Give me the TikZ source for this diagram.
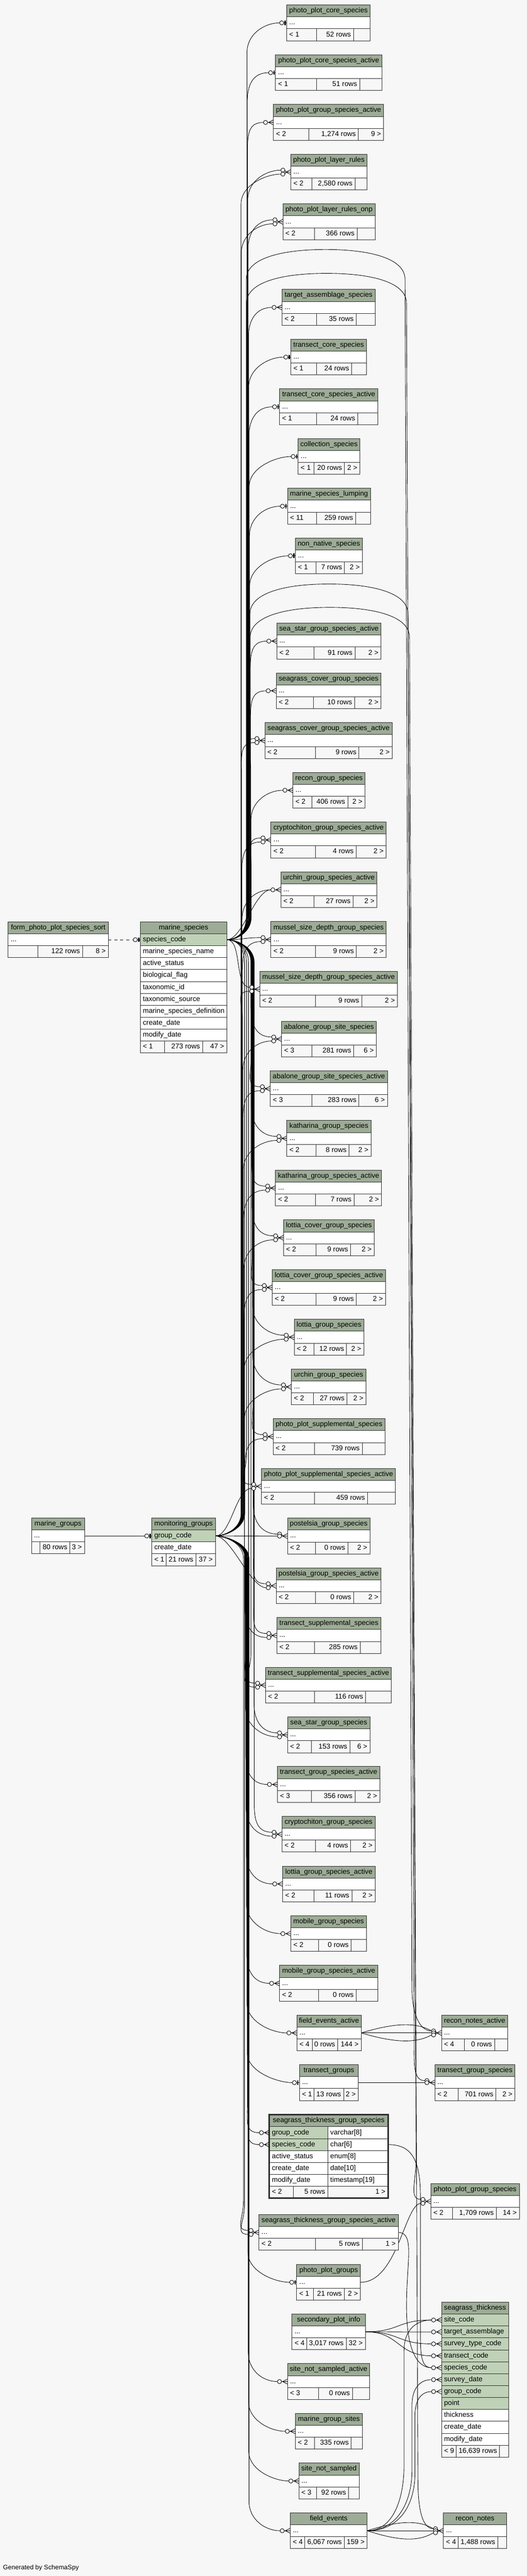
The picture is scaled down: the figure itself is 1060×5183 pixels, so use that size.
\documentclass[tikz,border=0pt]{standalone}
\usepackage{fontspec}
\setmainfont{Liberation Sans}
\usetikzlibrary{calc}
\definecolor{bgc}{RGB}{247,247,247}
\definecolor{hdrc}{RGB}{157,172,150}
\definecolor{keyc}{RGB}{191,209,183}
\definecolor{linec}{RGB}{45,45,45}
\pgfdeclarelayer{back}
\pgfdeclarelayer{wires}
\pgfsetlayers{back,wires,main}
\tikzset{
  tbl/.style={draw=linec,line width=1pt},
  tx/.style={font=\fontsize{14.2}{17}\selectfont,inner sep=0pt,text height=10.2pt,text depth=3pt,anchor=west},
  fkl/.style={draw=black,line width=0.9pt},
}
\def\tblgeom#1,#2,#3,#4,#5\relax{\def\tXl{#1}\def\tXr{#2}\def\tY{#3}\def\tDa{#4}\def\tDb{#5}}
\newcommand\stbl[6]{%
  \tblgeom#2\relax
  \fill[hdrc] (\tXl,\tY) rectangle (\tXr,{\tY+24});
  \fill[white] (\tXl,{\tY+24}) rectangle (\tXr,{\tY+48});
  \fill[bgc] (\tXl,{\tY+48}) rectangle (\tXr,{\tY+72});
  \draw[tbl] (\tXl,\tY) rectangle (\tXr,{\tY+72})
    (\tXl,{\tY+24}) -- (\tXr,{\tY+24}) (\tXl,{\tY+48}) -- (\tXr,{\tY+48})
    (\tDa,{\tY+48}) -- (\tDa,{\tY+72}) (\tDb,{\tY+48}) -- (\tDb,{\tY+72});
  \node[tx,anchor=center] (#1-t) at ({(\tXl+\tXr)/2},{\tY+12}) {#3};
  \node[tx] (#1-r) at ({\tXl+5},{\tY+36}) {...};
  \node[tx] (#1-fa) at ({\tXl+5},{\tY+60}) {#4};
  \node[tx,anchor=east] (#1-fb) at ({\tDb-5},{\tY+60}) {#5};
  \node[tx,anchor=east] (#1-fc) at ({\tXr-5},{\tY+60}) {#6};
  \coordinate (#1-in) at (\tXl,{\tY+36});
  \coordinate (#1-out) at (\tXr,{\tY+36});
  \coordinate (#1-c) at ({\tXl-20},{\tY+36});
  \coordinate (#1-cu) at ({\tXl-20},{\tY+32});
  \coordinate (#1-cd) at ({\tXl-20},{\tY+40});
  \coordinate (#1-z) at ({\tXl-14.3},{\tY+36});
}
\newcommand\bhead[5]{%
  \fill[hdrc] ({#2},{#4}) rectangle ({#3},{#4+24});
  \draw[tbl] ({#2},{#4}) rectangle ({#3},{#4+24});
  \node[tx,anchor=center] (#1-t) at ({(#2+#3)/2},{#4+12}) {#5};
}
\newcommand\brow[7]{%
  \fill[#7] ({#3},{#5}) rectangle ({#4},{#5+24});
  \draw[tbl] ({#3},{#5}) rectangle ({#4},{#5+24});
  \node[tx] (#1-#2) at ({#3+5},{#5+12}) {#6};
  \coordinate (#1-#2-in) at ({#3},{#5+12});
  \coordinate (#1-#2-out) at ({#4},{#5+12});
  \coordinate (#1-#2-c) at ({#3-20},{#5+12});
  \coordinate (#1-#2-z) at ({#3-14.3},{#5+12});
}
\newcommand\bfoot[9]{%
  \fill[bgc] ({#2},{#4}) rectangle ({#3},{#4+24});
  \draw[tbl] ({#2},{#4}) rectangle ({#3},{#4+24}) ({#5},{#4}) -- ({#5},{#4+24}) ({#6},{#4}) -- ({#6},{#4+24});
  \node[tx] (#1-fa) at ({#2+5},{#4+12}) {#7};
  \node[tx,anchor=east] (#1-fb) at ({#6-5},{#4+12}) {#8};
  \node[tx,anchor=east] (#1-fc) at ({#3-5},{#4+12}) {#9};
}
\newcommand\crowfan[1]{\draw[fkl] ($(#1-in)+(-10,0)$) -- (#1-in) ($(#1-in)+(-10,0)$) -- ($(#1-in)+(0,-5)$) ($(#1-in)+(-10,0)$) -- ($(#1-in)+(0,5)$);}
\newcommand\crowcirc[2]{\draw[fkl] ($(#1-in)+(-12,#2)$) -- ($(#1-in)+(-10,0)$); \draw[fkl,fill=bgc] ($(#1-in)+(-16,#2)$) circle (4.2pt);}
\newcommand\zomk[1]{\draw[fkl] ($(#1-in)+(-6,0)$) -- (#1-in); \draw[fkl,fill=bgc] ($(#1-in)+(-10,0)$) circle (4.2pt); \draw[black,line width=2.4pt] ($(#1-in)+(-3,-4.5)$) -- ($(#1-in)+(-3,4.5)$);}
\newcommand\fk[4]{\draw[fkl] (#1) .. controls ($(#1)+(20,0)$) and ($(#3,0 |- #1)+(0,{(#4)*15})$) .. ($(#3,0 |- #1)+(0,{(#4)*45})$) -- ($(#3,0 |- #2)+(0,{-60*(#4)})$) .. controls ($(#3,0 |- #2)+(0,{-22*(#4)})$) and ($(#2)+(-30,0)$) .. (#2);}
\newcommand\fkn[2]{\draw[fkl] (#1) .. controls ($(#1)+(32,0)$) and ($(#2)+(-32,0)$) .. (#2);}
\newcommand\fks[2]{\draw[fkl] (#1) -- (#2);}
\newcommand\fkarc[7]{\draw[fkl] (#1) .. controls ($(#1)+(20,0)$) and ($(#3,0 |- #1)+(0,-15)$) .. ($(#3,0 |- #1)+(0,-45)$) -- (#3,{#4+60}) .. controls (#3,{#4+18}) and ({#3+70},#4) .. ({(#3+#5)/2},#4) .. controls ({#5-70},#4) and (#5,{#4+18}) .. (#5,{#4+60}) -- (#6,#7) .. controls (#6,{#7+50}) and ($(#2)+(-25,0)$) .. (#2);}

\begin{document}
\begin{tikzpicture}[x=1pt,y=-1pt]
\begin{pgfonlayer}{back}
\fill[bgc] (0,0) rectangle (1060,5183);
\end{pgfonlayer}
\useasboundingbox (0,0) rectangle (1060,5183);

% ---------- left tables ----------
\stbl{fps}{16.4,217.9,1854.7,76.4,166.1}{form\_photo\_plot\_species\_sort}{}{122 rows}{8 >}
\stbl{mgr}{63.3,170,3054.3,80.7,140.7}{marine\_groups}{}{80 rows}{3 >}

\bhead{ms}{282.3}{456.3}{1854.7}{marine\_species}
\foreach \rnm/\rfl [count=\i] in {species\_code/keyc, marine\_species\_name/white, active\_status/white, biological\_flag/white, taxonomic\_id/white, taxonomic\_source/white, marine\_species\_definition/white, create\_date/white, modify\_date/white}
  {\brow{ms}{\i}{282.3}{456.3}{1854.7+24*\i}{\rnm}{\rfl}}
\bfoot{ms}{282.3}{456.3}{2094.7}{331}{407.7}{< 1}{273 rows}{47 >}

\bhead{mg}{305.3}{433.3}{3054.3}{monitoring\_groups}
\brow{mg}{1}{305.3}{433.3}{3078.3}{group\_code}{keyc}
\brow{mg}{2}{305.3}{433.3}{3102.3}{create\_date}{white}
\bfoot{mg}{305.3}{433.3}{3126.3}{334.3}{394.3}{< 1}{21 rows}{37 >}

% ---------- middle column ----------
\stbl{ppcs}{576.8,745.1,10,637,711.4}{photo\_plot\_core\_species}{< 1}{52 rows}{}
\stbl{ppcsa}{554.5,768.3,110.3,637,723.7}{photo\_plot\_core\_species\_active}{< 1}{51 rows}{}
\stbl{ppgsa}{550.3,772,210.3,621,721.1}{photo\_plot\_group\_species\_active}{< 2}{1,274 rows}{9 >}
\stbl{pplr}{585.2,738.4,310.3,627.7,714.4}{photo\_plot\_layer\_rules}{< 2}{2,580 rows}{}
\stbl{pplro}{569.2,754.8,410.3,632.7,718.6}{photo\_plot\_layer\_rules\_onp}{< 2}{366 rows}{}
\stbl{tas}{567.5,754.8,582.5,637,716.9}{target\_assemblage\_species}{< 2}{35 rows}{}
\stbl{tcs}{585.2,737.5,682.5,637,707.7}{transect\_core\_species}{< 1}{24 rows}{}
\stbl{tcsa}{562.5,760.3,782.5,637,719.9}{transect\_core\_species\_active}{< 1}{24 rows}{}
\stbl{cs}{599.9,724.1,882.5,631.5,693.4}{collection\_species}{< 1}{20 rows}{2 >}
\stbl{msl}{578.5,745.5,982.5,637,715.7}{marine\_species\_lumping}{< 11}{259 rows}{}
\stbl{nns}{594.4,729.1,1082.3,636.1,693.4}{non\_native\_species}{< 1}{7 rows}{2 >}
\stbl{ssgsa}{557,766.6,1253.9,631.9,714.4}{sea\_star\_group\_species\_active}{< 2}{91 rows}{2 >}
\stbl{scgs}{555.7,766.6,1353.9,630.6,713.6}{seagrass\_cover\_group\_species}{< 2}{10 rows}{2 >}
\stbl{scgsa}{533,789.3,1454,634.4,722.4}{seagrass\_cover\_group\_species\_active}{< 2}{9 rows}{2 >}
\stbl{rgs}{589.4,734.6,1554,627.7,699.7}{recon\_group\_species}{< 2}{406 rows}{2 >}
\stbl{cgsa}{545.2,777.1,1654,634.4,716.9}{cryptochiton\_group\_species\_active}{< 2}{4 rows}{2 >}
\stbl{ugsa}{565,758.6,1754.3,631.9,710.6}{urchin\_group\_species\_active}{< 2}{27 rows}{2 >}
\stbl{msdgs}{545.2,777.1,1854.4,634.4,717.3}{mussel\_size\_depth\_group\_species}{< 2}{9 rows}{2 >}
\stbl{msdgsa}{522.5,799.8,1954.4,634.4,727.9}{mussel\_size\_depth\_group\_species\_active}{< 2}{9 rows}{2 >}
\stbl{agss}{566.7,757.3,2054.5,627.7,711.9}{abalone\_group\_site\_species}{< 3}{281 rows}{6 >}
\stbl{agssa}{543.9,779.6,2154.5,627.7,722.4}{abalone\_group\_site\_species\_active}{< 3}{283 rows}{6 >}
\stbl{kgs}{577.2,746.4,2254.5,636.1,702.6}{katharina\_group\_species}{< 2}{8 rows}{2 >}
\stbl{kgsa}{554.5,767.8,2354.5,634.4,712.3}{katharina\_group\_species\_active}{< 2}{7 rows}{2 >}
\stbl{lcgs}{570.5,753.1,2454.5,636.1,705.6}{lottia\_cover\_group\_species}{< 2}{9 rows}{2 >}
\stbl{lcgsa}{547.7,775.8,2554.5,636.1,717.3}{lottia\_cover\_group\_species\_active}{< 2}{9 rows}{2 >}
\stbl{lgs}{591.9,732.1,2654.5,631.9,697.6}{lottia\_group\_species}{< 2}{12 rows}{2 >}
\stbl{ugs}{586.4,736.3,2754.5,630.6,698.4}{urchin\_group\_species}{< 2}{27 rows}{2 >}
\stbl{ppss}{549.4,774.6,2854.5,632.7,729.1}{photo\_plot\_supplemental\_species}{< 2}{739 rows}{}
\stbl{ppssa}{526.3,796,2954.6,632.7,739.6}{photo\_plot\_supplemental\_species\_active}{< 2}{459 rows}{}
\stbl{pgs}{578.5,744.3,3054.6,634.4,699.7}{postelsia\_group\_species}{< 2}{0 rows}{2 >}
\stbl{pgsa}{555.7,766.6,3154.6,634.4,711.9}{postelsia\_group\_species\_active}{< 2}{0 rows}{2 >}
\stbl{tss}{557,766.6,3254.6,632.7,724.9}{transect\_supplemental\_species}{< 2}{285 rows}{}
\stbl{tssa}{534.3,787.6,3354.6,632.7,735.9}{transect\_supplemental\_species\_active}{< 2}{116 rows}{}
\stbl{ssgs}{578.5,744.3,3454.6,626.4,703.9}{sea\_star\_group\_species}{< 2}{153 rows}{6 >}
\stbl{tgsa}{558.2,764.1,3554.3,626.4,714.4}{transect\_group\_species\_active}{< 3}{356 rows}{2 >}
\stbl{cgs}{567.5,754.8,3654.5,634.4,705.6}{cryptochiton\_group\_species}{< 2}{4 rows}{2 >}
\stbl{lgsa}{568.8,754.8,3754.5,631.9,708.1}{lottia\_group\_species\_active}{< 2}{11 rows}{2 >}
\stbl{mgs}{585.2,737.5,3854.5,641.2,706.8}{mobile\_group\_species}{< 2}{0 rows}{}
\stbl{mgsa}{562.5,760.3,3954.5,641.2,716.9}{mobile\_group\_species\_active}{< 2}{0 rows}{}
\stbl{fea}{597.4,726.7,4054.3,628.2,679.6}{field\_events\_active}{< 4}{0 rows}{144 >}
\stbl{tg}{602.5,721.1,4154.3,631.8,691.5}{transect\_groups}{< 1}{13 rows}{2 >}

% seagrass_thickness_group_species (focus table)
\bhead{stgs}{542}{780.8}{4255}{seagrass\_thickness\_group\_species}
\foreach \rnm/\rty/\rfl [count=\i] in {group\_code/varchar[8]/keyc, species\_code/char[6]/keyc, active\_status/enum[8]/white, create\_date/date[10]/white, modify\_date/timestamp[19]/white}{
  \fill[\rfl] (542,{4255+24*\i}) rectangle (659.5,{4279+24*\i});
  \fill[white] (659.5,{4255+24*\i}) rectangle (780.8,{4279+24*\i});
  \draw[tbl] (542,{4255+24*\i}) rectangle (780.8,{4279+24*\i}) (659.5,{4255+24*\i}) -- (659.5,{4279+24*\i});
  \node[tx] (stgs-n\i) at (547,{4267+24*\i}) {\rnm};
  \node[tx] (stgs-y\i) at (664.5,{4267+24*\i}) {\rty};
  \coordinate (stgs-\i-in) at (542,{4267+24*\i});
  \coordinate (stgs-\i-out) at (780.8,{4267+24*\i});
  \coordinate (stgs-\i-c) at (522,{4267+24*\i});
}
\bfoot{stgs}{542}{780.8}{4399}{590.7}{659.5}{< 2}{5 rows}{1 >}
\draw[linec,line width=3pt] (542,4255) rectangle (780.8,4423);

\stbl{stgsa}{521.1,801.4,4455.7,634.5,729}{seagrass\_thickness\_group\_species\_active}{< 2}{5 rows}{1 >}
\stbl{ppg}{597,725.5,4556,630.6,693.1}{photo\_plot\_groups}{< 1}{21 rows}{2 >}
\stbl{spi}{587.5,735,4655.6,617.5,696.6}{secondary\_plot\_info}{< 4}{3,017 rows}{32 >}
\stbl{nssa}{578.4,743.7,4755.7,640.9,709.3}{site\_not\_sampled\_active}{< 3}{0 rows}{}
\stbl{mgsi}{594.2,729.4,4855.8,633,706.9}{marine\_group\_sites}{< 2}{335 rows}{}
\stbl{nss}{601.3,722.7,4955.8,636.9,701.4}{site\_not\_sampled}{< 3}{92 rows}{}
\stbl{fe}{583.9,738.9,5055.9,613.2,693.1}{field\_events}{< 4}{6,067 rows}{159 >}

% ---------- right column ----------
\stbl{rna}{888.4,1021.6,4054.3,934.7,995.2}{recon\_notes\_active}{< 4}{0 rows}{}
\stbl{tgs}{875,1036.3,4154.3,921.6,997.9}{transect\_group\_species}{< 2}{701 rows}{2 >}
\stbl{ppgs}{867,1045,4393.2,911,998.7}{photo\_plot\_group\_species}{< 2}{1,709 rows}{14 >}
\bhead{st}{888.4}{1023.2}{4631.9}{seagrass\_thickness}
\foreach \rnm/\rfl [count=\i] in {site\_code/keyc, target\_assemblage/keyc, survey\_type\_code/keyc, transect\_code/keyc, species\_code/keyc, survey\_date/keyc, group\_code/keyc, point/keyc, thickness/white, create\_date/white, modify\_date/white}
  {\brow{st}{\i}{888.4}{1023.2}{4631.9+24*\i}{\rnm}{\rfl}}
\bfoot{st}{888.4}{1023.2}{4919.9}{917.7}{1005.4}{< 9}{16,639 rows}{}
\stbl{rn}{892.3,1019.3,5055.9,921.6,1001.5}{recon\_notes}{< 4}{1,488 rows}{}

\node[tx,font=\fontsize{13}{15}\selectfont] (gen) at (6,5166) {Generated by SchemaSpy};

\coordinate (MS) at (ms-1-out);
\coordinate (MG) at (mg-1-out);

% ---------- connectors ----------
\begin{pgfonlayer}{wires}
\draw[fkl,dash pattern=on 6pt off 6pt] (fps-out) -- (ms-1-z);
\fks{mgr-out}{mg-1-z}
% marine_species upward
\fk{MS}{ppcs-z}{497}{-1}
\fk{MS}{ppcsa-z}{497.5}{-1}
\fk{MS}{ppgsa-c}{498}{-1}
\fk{MS}{pplr-cu}{498.5}{-1}
\fk{MS}{pplro-cu}{499}{-1}
\fk{MS}{tas-c}{500}{-1}
\fk{MS}{tcs-z}{500.5}{-1}
\fk{MS}{tcsa-z}{501}{-1}
\fk{MS}{cs-z}{501.5}{-1}
\fk{MS}{msl-z}{502}{-1}
\fk{MS}{nns-z}{502.5}{-1}
\fk{MS}{ssgsa-c}{503.5}{-1}
\fk{MS}{scgs-c}{504}{-1}
\fk{MS}{scgsa-cu}{504.5}{-1}
\fk{MS}{rgs-c}{505}{-1}
\fk{MS}{cgsa-cu}{505.5}{-1}
\fkn{MS}{ugsa-c}
% long arcs to the right column
\fkarc{MS}{rna-cu}{495.5}{502}{815}{829}{4000}
\fkarc{MS}{tgs-cu}{496}{550}{818}{833.5}{4100}
\fkarc{MS}{ppgs-cu}{503}{1175}{821}{837.5}{4340}
\fkarc{MS}{rn-cu}{503.5}{1222}{824}{841}{4990}
% marine_species downward
\fkn{MS}{msdgs-cu}
\fkn{MS}{msdgsa-cu}
\fk{MS}{agss-cu}{505}{1}
\fk{MS}{agssa-cu}{505.5}{1}
\fk{MS}{kgs-cu}{506}{1}
\fk{MS}{kgsa-cu}{506.5}{1}
\fk{MS}{lcgs-cu}{507}{1}
\fk{MS}{lcgsa-cu}{507.5}{1}
\fk{MS}{lgs-cu}{508}{1}
\fk{MS}{ugs-cu}{508.5}{1}
\fk{MS}{ppss-cu}{509}{1}
\fk{MS}{ppssa-cu}{496}{1}
\fk{MS}{pgs-cu}{509.5}{1}
\fk{MS}{pgsa-cu}{510}{1}
\fk{MS}{tss-cu}{510.5}{1}
\fk{MS}{tssa-cu}{505}{1}
\fk{MS}{ssgs-cu}{511}{1}
\fk{MS}{cgs-cu}{511.5}{1}
\fk{MS}{stgs-2-c}{500}{1}
\fk{MS}{stgsa-cd}{492}{1}
% monitoring_groups upward
\fk{MG}{pplr-cd}{485}{-1}
\fk{MG}{pplro-cd}{485.5}{-1}
\fk{MG}{scgsa-cd}{486}{-1}
\fk{MG}{cgsa-cd}{486.5}{-1}
\fk{MG}{ugsa-c}{487}{-1}
\fk{MG}{msdgs-cd}{487.5}{-1}
\fk{MG}{msdgsa-cd}{488}{-1}
\fk{MG}{agss-cd}{488.5}{-1}
\fk{MG}{agssa-cd}{489}{-1}
\fk{MG}{kgs-cd}{489.5}{-1}
\fk{MG}{kgsa-cd}{490}{-1}
\fk{MG}{lcgs-cd}{490.5}{-1}
\fk{MG}{lcgsa-cd}{491}{-1}
\fk{MG}{lgs-cd}{491.5}{-1}
\fk{MG}{ugs-cd}{492}{-1}
\fk{MG}{ppss-cd}{492.5}{-1}
\fkn{MG}{ppssa-cd}
\fks{MG}{pgs-c}
% monitoring_groups downward
\fkn{MG}{pgsa-cd}
\fk{MG}{tss-cd}{493}{1}
\fk{MG}{tssa-cd}{493.5}{1}
\fk{MG}{ssgs-cd}{494}{1}
\fk{MG}{tgsa-c}{494.5}{1}
\fk{MG}{cgs-cd}{495}{1}
\fk{MG}{lgsa-c}{495.5}{1}
\fk{MG}{mgs-c}{496}{1}
\fk{MG}{mgsa-c}{496.5}{1}
\fk{MG}{fea-c}{497}{1}
\fk{MG}{tg-z}{497.5}{1}
\fk{MG}{stgs-1-c}{498}{1}
\fk{MG}{stgsa-cu}{490}{1}
\fk{MG}{ppg-z}{499}{1}
\fk{MG}{nssa-c}{499.5}{1}
\fk{MG}{mgsi-c}{500}{1}
\fk{MG}{nss-c}{500.5}{1}
\fk{MG}{fe-c}{501}{1}
% right side
\fks{tg-out}{tgs-c}
\draw[fkl] (fea-out) -- (rna-c);
\draw[fkl] (fea-out) .. controls (800,4068) and (840,4070) .. (rna-cu);
\draw[fkl] (fea-out) .. controls (800,4112) and (840,4110) .. (rna-cd);
\draw[fkl] (fe-out) -- (rn-c);
\draw[fkl] (fe-out) .. controls (810,5069) and (845,5072) .. (rn-cu);
\draw[fkl] (fe-out) .. controls (810,5115) and (845,5112) .. (rn-cd);
\draw[fkl] (ppg-out) .. controls (800,4592) and (815,4433) .. (ppgs-cd);
\foreach \k in {1,2,3,4}{\draw[fkl] (spi-out) .. controls ($(spi-out)+(70,0)$) and ($(st-\k-c)+(-70,0)$) .. (st-\k-c);}
\draw[fkl] (fe-out) .. controls (790,5091.9) and (813,5030) .. (813,4960) -- (813,4730) .. controls (813,4685) and (840,4667.9) .. (st-1-c);
\draw[fkl] (fe-out) .. controls (795,5091.9) and (829,5040) .. (829,4970) -- (829,4840) .. controls (829,4805) and (845,4787.9) .. (st-6-c);
\draw[fkl] (fe-out) .. controls (800,5091.9) and (835,5045) .. (835,4975) -- (835,4860) .. controls (835,4828) and (848,4811.9) .. (st-7-c);
\draw[fkl] (stgs-2-out) .. controls (825,4315) and (846,4340) .. (846,4420) -- (846,4700) .. controls (846,4745) and (850,4763.9) .. (st-5-c);
\draw[fkl] (stgsa-out) .. controls (835,4491.7) and (818,4550) .. (818,4640) .. controls (818,4730) and (840,4763.9) .. (st-5-c);
\end{pgfonlayer}

% ---------- end markers ----------
\foreach \n in {ppcs,ppcsa,tcs,tcsa,cs,msl,nns,tg,ppg,ms-1,mg-1}{\zomk{\n}}
\foreach \n in {ppgsa,tas,ssgsa,scgs,rgs,ugsa,tgsa,lgsa,mgs,mgsa,fea,nssa,mgsi,nss,fe,st-1,st-2,st-3,st-4,st-5,st-6,st-7,stgs-1,stgs-2}{\crowfan{\n}\crowcirc{\n}{0}}
\foreach \n in {pplr,pplro,scgsa,cgsa,msdgs,msdgsa,agss,agssa,kgs,kgsa,lcgs,lcgsa,lgs,ugs,ppss,ppssa,pgsa,tss,tssa,ssgs,cgs,stgsa,ppgs}{\crowfan{\n}\crowcirc{\n}{-4}\crowcirc{\n}{4}}
\foreach \n in {pgs,tgs}{\crowfan{\n}\crowcirc{\n}{-4}\crowcirc{\n}{0}}
\foreach \n in {rna,rn}{\crowfan{\n}\crowcirc{\n}{-4}\crowcirc{\n}{0}\crowcirc{\n}{4}}
\end{tikzpicture}
\end{document}
